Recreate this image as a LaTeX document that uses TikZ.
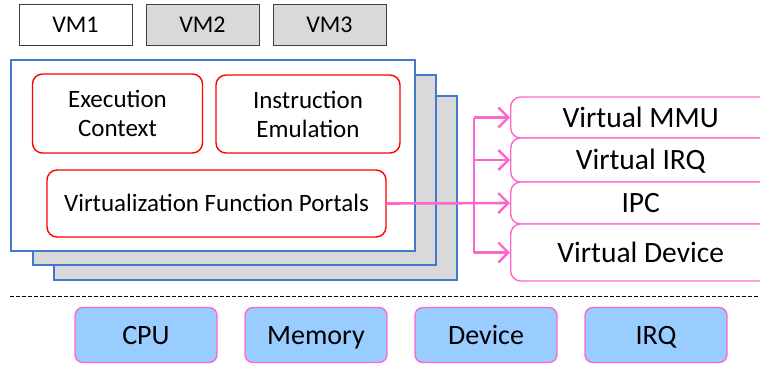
\documentclass[tikz,border=0pt]{standalone}
\usepackage{fontspec}
\setmainfont{Carlito}
\usetikzlibrary{arrows.meta}
\definecolor{vmgray}{RGB}{217,217,217}
\definecolor{vmborder}{RGB}{64,64,64}
\definecolor{stackblue}{RGB}{68,120,205}
\definecolor{portred}{RGB}{255,0,0}
\definecolor{vpink}{RGB}{255,102,204}
\definecolor{hwblue}{RGB}{153,204,255}
\tikzset{
  vmbox/.style={draw=vmborder, line width=0.9pt, minimum width=113pt, minimum height=41pt, inner sep=0pt, text height=21.5pt, text depth=6pt, font=\fontsize{24}{28}\selectfont},
  stackbox/.style={draw=stackblue, line width=1.7pt, inner sep=0pt},
  funcbox/.style={draw=portred, line width=1.4pt, rounded corners=10pt, fill=white, inner sep=0pt, align=center, font=\fontsize{25}{29}\selectfont},
  virtbox/.style={draw=vpink, line width=1.4pt, rounded corners=10pt, fill=white, inner sep=0pt, minimum width=260pt, text height=26.4pt, text depth=7.4pt, font=\fontsize{29.5}{32}\selectfont},
  hwbox/.style={draw=vpink, line width=1.4pt, rounded corners=8pt, fill=hwblue, inner sep=0pt, minimum width=142pt, minimum height=55pt, text height=25pt, text depth=7pt, font=\fontsize{28}{32}\selectfont},
  pinkline/.style={draw=vpink, line width=2.6pt},
  pinkarrow/.style={pinkline, -{Straight Barb[length=10pt,width=20pt,line width=2.4pt]}},
}
\begin{document}
\begin{tikzpicture}[x=1pt,y=-1pt]
\useasboundingbox (0,0) rectangle (760,365);
\begin{scope}
\clip (0,0) rectangle (760,365);
% VM tabs
\node[vmbox] (vm1) at (75.5,24.5) {VM1};
\node[vmbox, fill=vmgray] (vm2) at (202.5,24.5) {VM2};
\node[vmbox, fill=vmgray] (vm3) at (329.5,24.5) {VM3};
% stacked VM boxes
\node[stackbox, fill=vmgray, minimum width=403pt, minimum height=184pt] (back3) at (255.5,188) {};
\node[stackbox, fill=vmgray, minimum width=403pt, minimum height=190pt] (back2) at (234.5,170) {};
\node[stackbox, fill=white, minimum width=404pt, minimum height=191pt] (front) at (213,155.5) {};
% function boxes
\node[funcbox, minimum width=170pt, minimum height=79pt] (exec) at (117.5,113.5) {Execution\\Context};
\node[funcbox, minimum width=184pt, minimum height=78pt] (emul) at (308,114) {Instruction\\Emulation};
\node[funcbox, text height=22.4pt, text depth=6.25pt, minimum width=339pt, minimum height=67pt] (vfp) at (216.5,203.5) {Virtualization Function Portals};
% virtual services
\node[virtbox, minimum height=41pt, anchor=west] (mmu) at (510,117.5) {Virtual MMU};
\node[virtbox, minimum height=44pt, anchor=west] (virq) at (510,160) {Virtual IRQ};
\node[virtbox, minimum height=42pt, anchor=west] (ipc) at (510,203) {IPC};
\node[virtbox, minimum height=57pt, anchor=west] (vdev) at (510,252.5) {Virtual Device};
% connectors
\coordinate (bus) at (474,203);
\draw[pinkline] (bus |- mmu.west) -- (bus |- vdev.west);
\draw[pinkarrow] (vfp.east) -- (ipc.west);
\draw[pinkarrow] (bus |- mmu.west) -- (mmu.west);
\draw[pinkarrow] (bus |- virq.west) -- (virq.west);
\draw[pinkarrow] (bus |- vdev.west) -- (vdev.west);
% separator
\coordinate (dl) at (10,296.5);
\coordinate (dr) at (760,296.5);
\draw[line width=0.7pt, dash pattern=on 3.5pt off 2.5pt] (dl) -- (dr);
% hardware
\node[hwbox] (cpu) at (146,335) {CPU};
\node[hwbox] (mem) at (316,335) {Memory};
\node[hwbox] (dev) at (486,335) {Device};
\node[hwbox] (irq) at (656,335) {IRQ};
\end{scope}
\end{tikzpicture}
\end{document}
